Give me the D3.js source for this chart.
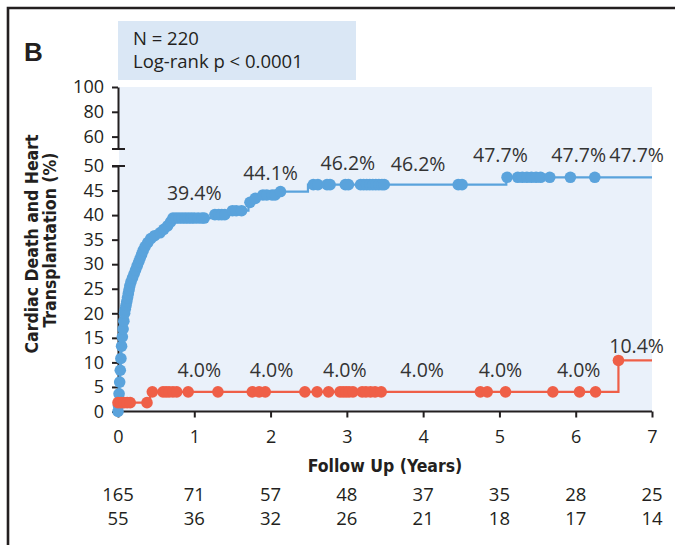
<!DOCTYPE html>
<html>
<head>
<meta charset="utf-8">
<script src="https://cdn.jsdelivr.net/npm/d3@7"></script>
<style>
  body { margin: 0; background: #fff; }
  svg { display: block; }
</style>
</head>
<body>
<svg id="chart" width="675" height="545"></svg>
<script>
// ---- Data -------------------------------------------------------------
const years = [0, 1, 2, 3, 4, 5, 6, 7];
const lowerTicks = [0, 5, 10, 15, 20, 25, 30, 35, 40, 45, 50];
const upperTicks = [60, 80, 100];

// Cumulative incidence (%) step function, group 1 (blue)
const blueTimes = [0, 0.004, 0.008, 0.012, 0.016, 0.02, 0.024, 0.028, 0.032, 0.036, 0.04, 0.045,
  0.05, 0.055, 0.06, 0.065, 0.07, 0.075, 0.08, 0.085, 0.09, 0.1, 0.11, 0.12, 0.13, 0.14, 0.15,
  0.165, 0.18, 0.2, 0.22, 0.24, 0.26, 0.28, 0.3, 0.32, 0.34, 0.37, 0.41, 0.46, 0.52, 0.58, 0.63,
  0.67, 0.7, 1.25, 1.47, 1.71, 1.76, 1.88, 2.1, 2.49, 5.09];
const blueValues = [0, 1.2, 2.4, 3.6, 4.8, 6, 7.2, 8.4, 9.6, 10.8, 12, 13.3,
  14.5, 15.2, 16, 16.8, 17.6, 18.4, 19.2, 20, 20.8, 21.6, 22.4, 23.2, 24, 24.8, 25.6,
  26.4, 27.2, 28, 28.8, 29.6, 30.4, 31.2, 32, 32.8, 33.6, 34.4, 35.2, 35.8, 36.4, 37.1, 37.8,
  38.6, 39.4, 40.1, 40.9, 42.6, 43.4, 44.1, 44.8, 46.2, 47.7];
const blueCensor = [0, 0.006, 0.014, 0.022, 0.03, 0.038, 0.047, 0.057, 0.067, 0.077, 0.087, 0.095,
  0.105, 0.115, 0.125, 0.135, 0.145, 0.155, 0.17, 0.19, 0.21, 0.23, 0.25, 0.27, 0.29, 0.31, 0.33,
  0.355, 0.39, 0.43, 0.48, 0.55, 0.6, 0.65, 0.69, 0.72, 0.76, 0.8, 0.84, 0.88, 0.92, 0.96, 1.0,
  1.05, 1.1, 1.13, 1.27, 1.32, 1.36, 1.4, 1.5, 1.55, 1.62, 1.73, 1.8, 1.9, 1.95, 2.02, 2.06, 2.13,
  2.56, 2.62, 2.74, 2.78, 2.98, 3.02, 3.18, 3.22, 3.26, 3.3, 3.34, 3.38, 3.42, 3.46, 3.49, 4.46,
  4.51, 5.1, 5.24, 5.3, 5.36, 5.42, 5.48, 5.54, 5.66, 5.93, 6.25];

// Group 2 (red)
const redTimes = [0, 0.42, 6.56];
const redValues = [1.8, 4.0, 10.4];
const redCensor = [0, 0.04, 0.08, 0.12, 0.16, 0.38, 0.45, 0.59, 0.63, 0.67, 0.72, 0.77, 0.92,
  1.31, 1.76, 1.85, 1.93, 2.45, 2.61, 2.76, 2.91, 2.95, 2.99, 3.03, 3.08, 3.2, 3.25, 3.31, 3.37,
  3.45, 4.75, 4.84, 5.08, 5.7, 6.05, 6.26, 6.56];

// Yearly cumulative incidence annotations
const labelYears = [1, 2, 3, 4, 5, 6, 7];
const blueLabelValues = [39.4, 44.1, 46.2, 46.2, 47.7, 47.7, 47.7];
const redLabelValues = [4.0, 4.0, 4.0, 4.0, 4.0, 4.0, 10.4];

// Numbers at risk
const atRiskBlue = [165, 71, 57, 48, 37, 35, 28, 25];
const atRiskRed = [55, 36, 32, 26, 21, 18, 17, 14];

// ---- Layout & style ---------------------------------------------------
const INK = "#231f20";
const BLUE = "#5aa3dc";
const RED = "#ef5f47";
const REG = "'Open Sans', 'Noto Sans', sans-serif";
const COND = "'DejaVu Sans Condensed', 'DejaVu Sans', sans-serif";

const svg = d3.select("#chart");

const x = d3.scaleLinear().domain([0, 7]).range([118, 652]);
const yLo = d3.scaleLinear().domain([0, 50]).range([411.5, 166]);
const yHi = d3.scaleLinear().domain([50, 100]).range([149, 87]);

// Frame lines
svg.append("path")
  .attr("d", "M8,545V8H675")
  .attr("fill", "none").attr("stroke", INK).attr("stroke-width", 2.6);

// Panel letter
svg.append("text")
  .attr("x", 24).attr("y", 61)
  .attr("font-family", "'Liberation Sans', Arial, sans-serif")
  .attr("font-weight", "bold").attr("font-size", 26).attr("fill", INK)
  .text("B");

// Statistics box
svg.append("rect")
  .attr("x", 118).attr("y", 21).attr("width", 238).attr("height", 59)
  .attr("fill", "#dae7f5");
const stats = svg.append("g").attr("font-family", REG).attr("font-size", 18.5).attr("fill", INK);
stats.append("text").attr("x", 133).attr("y", 44.5).text("N = 220");
stats.append("text").attr("x", 133).attr("y", 67.5).text("Log-rank p < 0.0001");

// Plot background
svg.append("rect")
  .attr("x", x(0) + 1).attr("y", yHi(100))
  .attr("width", x(7) - x(0) - 1).attr("height", yLo(0) - yHi(100))
  .attr("fill", "#eaf1fa");

// Axes
function styleAxis(g) {
  g.selectAll("path, line").attr("stroke", INK).attr("stroke-width", 2);
  g.selectAll("text").attr("fill", INK).attr("font-family", REG).attr("font-size", 18);
}

svg.append("g")
  .attr("transform", `translate(0,${yLo(0)})`)
  .call(d3.axisBottom(x).tickValues(years).tickFormat(d3.format("d"))
    .tickSize(6).tickSizeOuter(0).tickPadding(13))
  .call(styleAxis)
  .call(g => g.select(".domain").attr("d", `M${x(0)},0H${x(7)}`));

const yAxisLo = svg.append("g")
  .attr("transform", `translate(${x(0)},0)`)
  .call(d3.axisLeft(yLo).tickValues(lowerTicks).tickSize(6).tickSizeOuter(0).tickPadding(8))
  .call(styleAxis);
yAxisLo.append("line")
  .attr("x1", -6).attr("x2", 7).attr("y1", yLo(50)).attr("y2", yLo(50))
  .attr("stroke", INK).attr("stroke-width", 2);

const yAxisHi = svg.append("g")
  .attr("transform", `translate(${x(0)},0)`)
  .call(d3.axisLeft(yHi).tickValues(upperTicks).tickSize(6).tickSizeOuter(0).tickPadding(8))
  .call(styleAxis);
yAxisHi.append("line")
  .attr("x1", -6).attr("x2", 7).attr("y1", yHi(50)).attr("y2", yHi(50))
  .attr("stroke", INK).attr("stroke-width", 2);

// Axis titles
const cond = svg.append("g")
  .attr("font-family", COND).attr("font-weight", "bold").attr("font-size", 17.5)
  .attr("fill", INK).attr("text-anchor", "middle");
cond.append("text")
  .attr("transform", "translate(38,244) rotate(-90)")
  .text("Cardiac Death and Heart");
cond.append("text")
  .attr("transform", "translate(56,240) rotate(-90)")
  .text("Transplantation (%)");
cond.append("text")
  .attr("x", 385).attr("y", 472)
  .text("Follow Up (Years)");

// ---- Curves -----------------------------------------------------------
function stepValue(times, values, t) {
  let v = values[0];
  for (let i = 0; i < times.length; i++) if (times[i] <= t) v = values[i];
  return v;
}

function drawCurve(times, values, censor, color) {
  const pts = times.map((t, i) => [t, values[i]]);
  pts.push([7, values[values.length - 1]]);
  const line = d3.line()
    .x(d => x(d[0])).y(d => yLo(d[1]))
    .curve(d3.curveStepAfter);
  svg.append("path")
    .attr("d", line(pts))
    .attr("fill", "none").attr("stroke", color).attr("stroke-width", 2.2);
  svg.append("g").selectAll("circle")
    .data(censor)
    .join("circle")
    .attr("cx", t => x(t))
    .attr("cy", t => yLo(stepValue(times, values, t)))
    .attr("r", 5.8)
    .attr("fill", color);
}

drawCurve(blueTimes, blueValues, blueCensor, BLUE);
drawCurve(redTimes, redValues, redCensor, RED);

// ---- Annotations ------------------------------------------------------
const blueNudge = [{dx: 0, dy: -18}, {dx: 0, dy: -15}, {dx: 1, dy: -15}, {dx: -5, dy: -14},
  {dx: 1, dy: -15}, {dx: 3, dy: -15}, {dx: 0, dy: -15}];
const redNudge = [{dx: 5, dy: -15}, {dx: 1, dy: -15}, {dx: -2, dy: -15}, {dx: -1, dy: -15},
  {dx: 1, dy: -15}, {dx: 3, dy: -15}, {dx: 0, dy: -7}];

function drawLabels(values, nudge) {
  svg.append("g")
    .attr("font-family", REG).attr("font-size", 19.5).attr("fill", "#333")
    .selectAll("text")
    .data(values)
    .join("text")
    .attr("text-anchor", (d, i) => labelYears[i] === 7 ? "end" : "middle")
    .attr("x", (d, i) => x(labelYears[i]) + (labelYears[i] === 7 ? 12 : 0) + nudge[i].dx)
    .attr("y", (d, i) => yLo(d) + nudge[i].dy)
    .text(d => d.toFixed(1) + "%");
}
drawLabels(blueLabelValues, blueNudge);
drawLabels(redLabelValues, redNudge);

// ---- Numbers at risk --------------------------------------------------
const risk = svg.append("g")
  .attr("font-family", REG).attr("font-size", 18.5).attr("fill", INK)
  .attr("text-anchor", "middle");
risk.selectAll("text.r1").data(atRiskBlue).join("text").attr("class", "r1")
  .attr("x", (d, i) => x(years[i])).attr("y", 501).text(d => d);
risk.selectAll("text.r2").data(atRiskRed).join("text").attr("class", "r2")
  .attr("x", (d, i) => x(years[i])).attr("y", 525).text(d => d);
</script>
</body>
</html>
